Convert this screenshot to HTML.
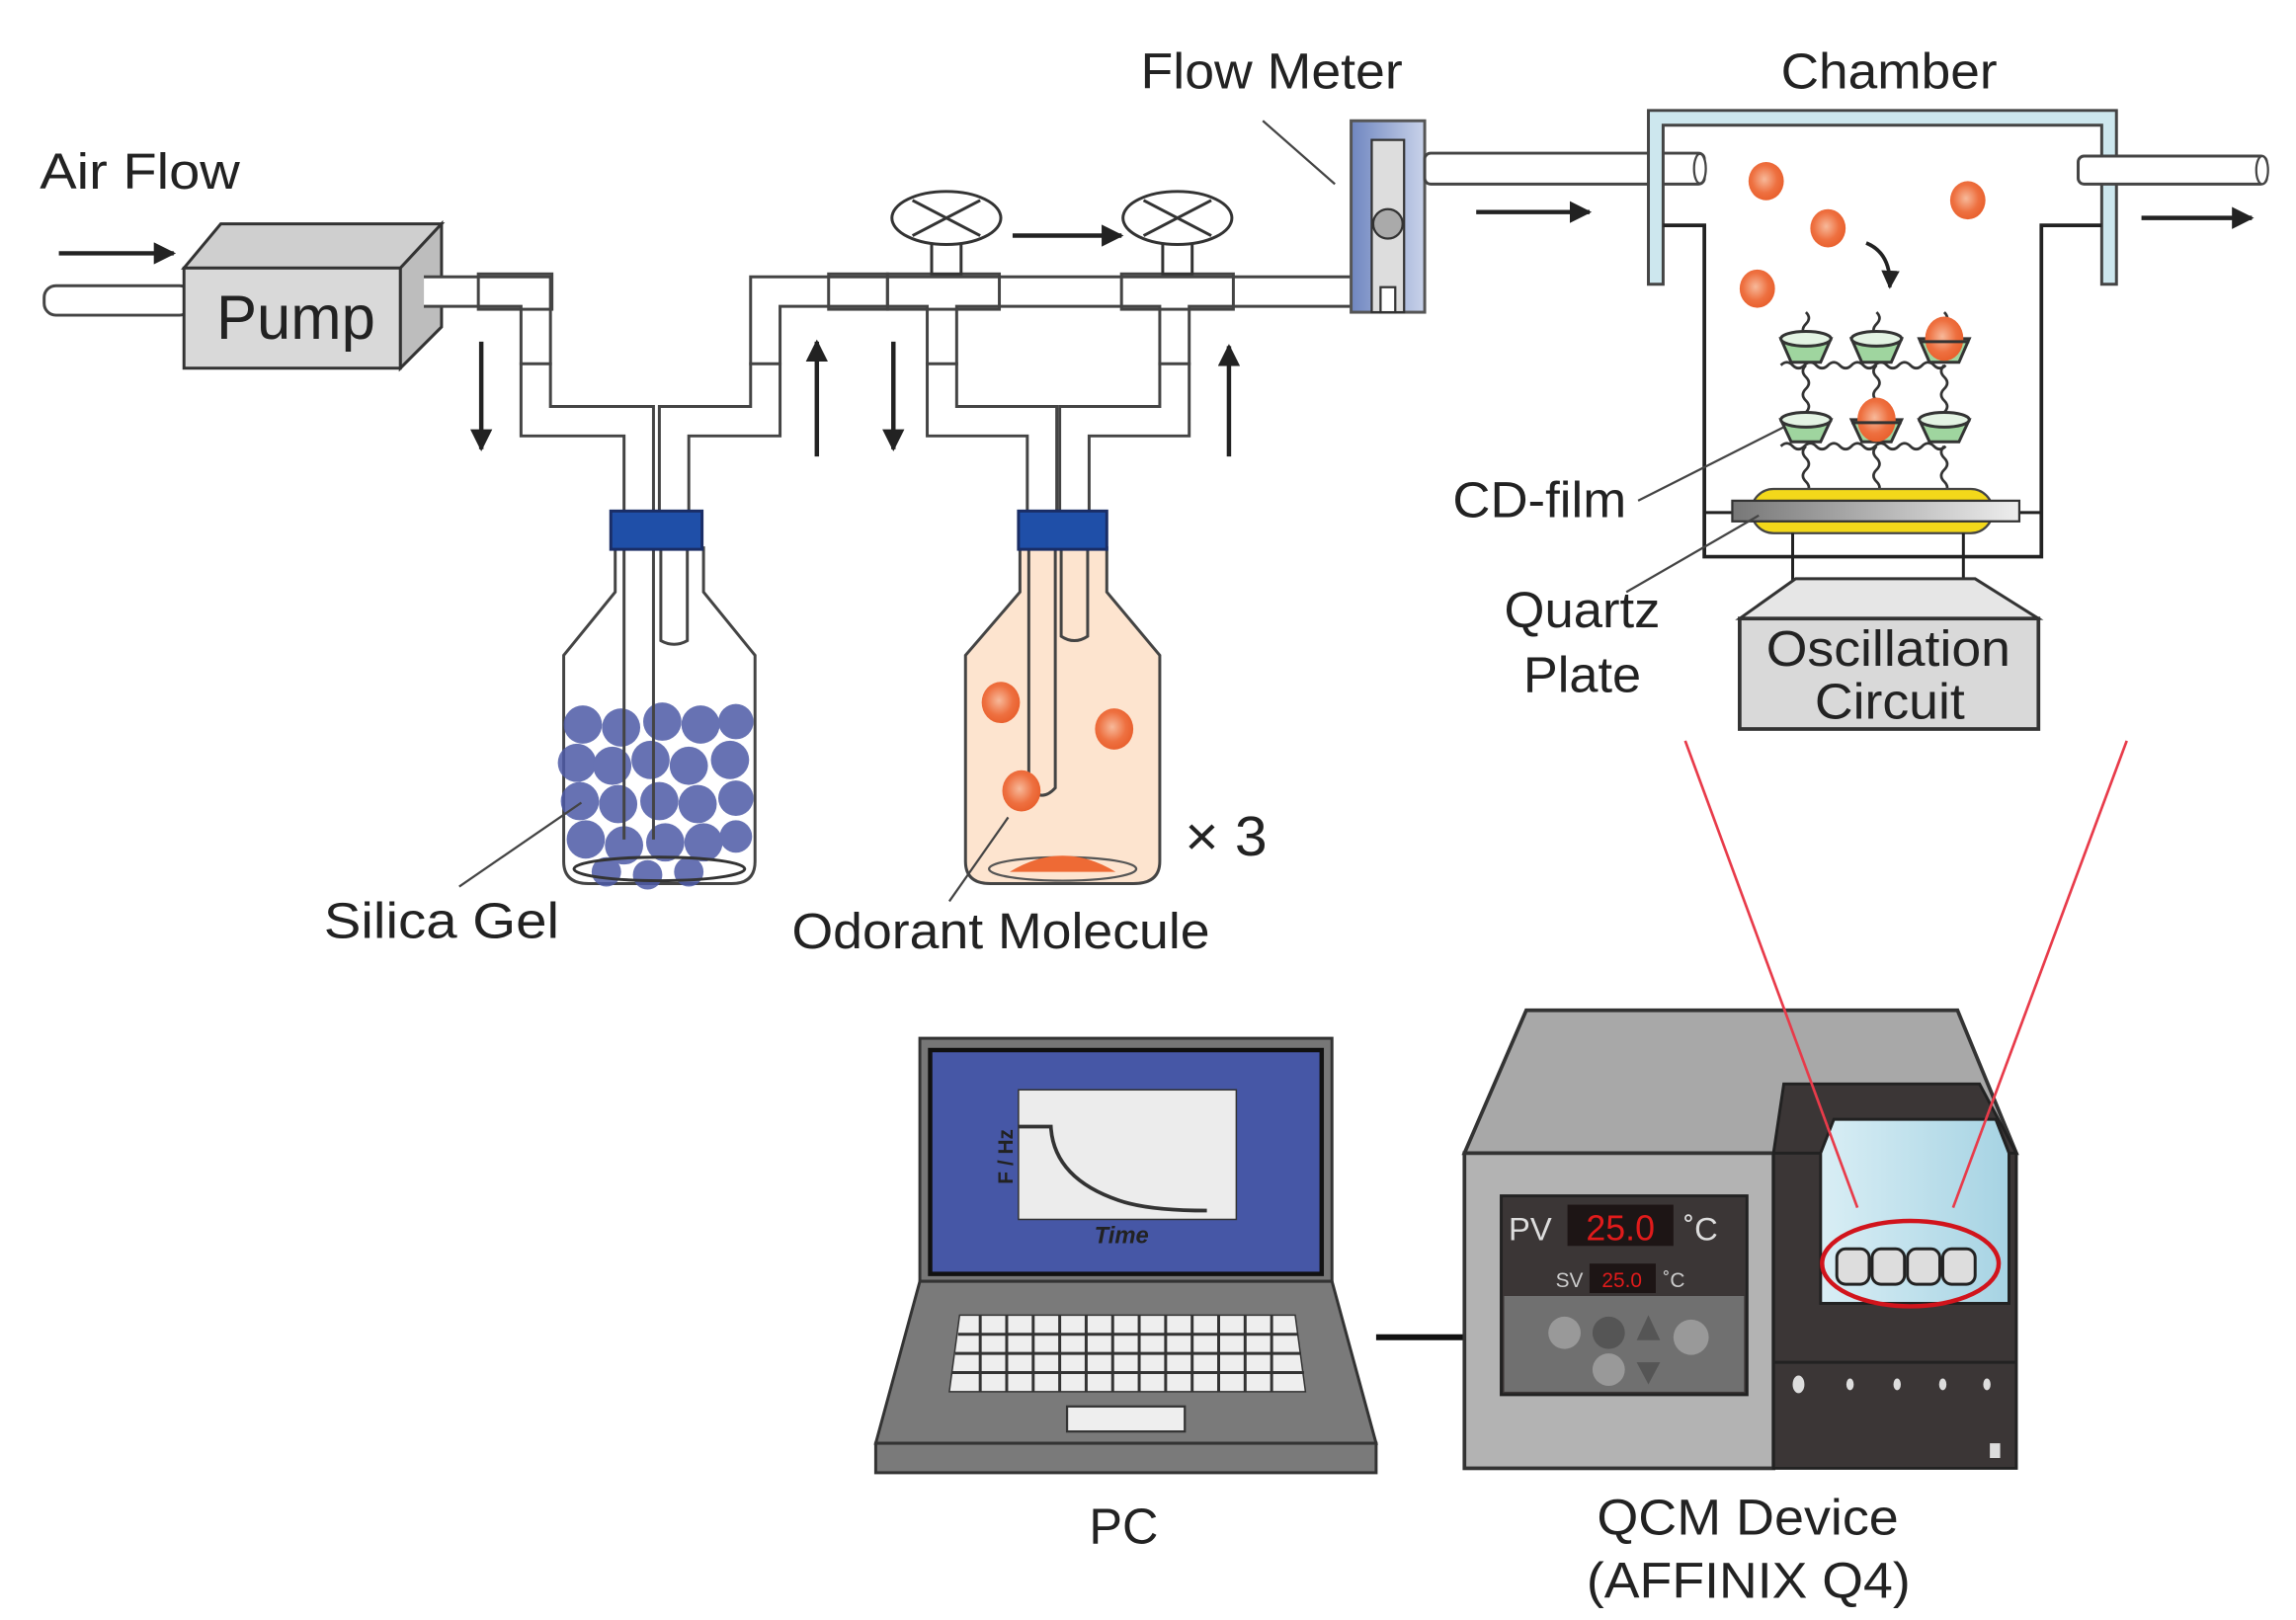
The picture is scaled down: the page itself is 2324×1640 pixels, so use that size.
<!DOCTYPE html>
<html><head><meta charset="utf-8"><style>
html,body{margin:0;padding:0;background:#fff}
svg{display:block}
text{font-family:"Liberation Sans",sans-serif;fill:#222}
</style></head><body>
<svg width="2324" height="1640" viewBox="0 0 1560 1100" preserveAspectRatio="none" xmlns="http://www.w3.org/2000/svg">
<defs>
<marker id="ah" viewBox="0 0 10 10" refX="9" refY="5" markerWidth="5" markerHeight="5" orient="auto"><path d="M0,0 L10,5 L0,10 z" fill="#222"/></marker>
<radialGradient id="og" cx="0.45" cy="0.45" r="0.6"><stop offset="0" stop-color="#f7b99a"/><stop offset="0.6" stop-color="#ee7040"/><stop offset="1" stop-color="#e85d2a"/></radialGradient>
<linearGradient id="fm" x1="0" x2="1"><stop offset="0" stop-color="#6f86c0"/><stop offset="1" stop-color="#c9d3ea"/></linearGradient>
<linearGradient id="qz" x1="0" x2="1"><stop offset="0" stop-color="#777"/><stop offset="1" stop-color="#eee"/></linearGradient>
<linearGradient id="win" x1="0" x2="1"><stop offset="0" stop-color="#d9eef5"/><stop offset="1" stop-color="#a6d3e3"/></linearGradient>
</defs>

<!-- Labels -->
<text x="27" y="128" font-size="34" textLength="136" lengthAdjust="spacingAndGlyphs">Air Flow</text>
<text x="775" y="60" font-size="34" textLength="178" lengthAdjust="spacingAndGlyphs">Flow Meter</text>
<text x="1210" y="60" font-size="34" textLength="147" lengthAdjust="spacingAndGlyphs">Chamber</text>

<!-- inlet arrow and tube -->
<line x1="40" y1="172" x2="118" y2="172" stroke="#222" stroke-width="3" marker-end="url(#ah)"/>
<rect x="30" y="194" width="100" height="20" rx="8" fill="#fff" stroke="#444" stroke-width="2"/>

<!-- Pump -->
<polygon points="125,182 150,152 300,152 272,182" fill="#cfcfcf" stroke="#333" stroke-width="2"/>
<polygon points="272,182 300,152 300,222 272,250" fill="#bdbdbd" stroke="#333" stroke-width="2"/>
<rect x="125" y="182" width="147" height="68" fill="#d9d9d9" stroke="#333" stroke-width="2"/>
<text x="147" y="230" font-size="42" textLength="108" lengthAdjust="spacingAndGlyphs">Pump</text>

<!-- tubes -->
<g fill="none" stroke-linejoin="miter">
<g stroke="#444" stroke-width="22">
<path d="M288,198 H364 V286 H434 V570"/>
<path d="M458,435 V286 H520 V198 H930"/>
<path d="M640,198 V286 H708 V540"/>
<path d="M730,435 V286 H798 V198"/>
</g>
<g stroke="#fff" stroke-width="18">
<path d="M288,198 H364 V286 H434 V570"/>
<path d="M458,435 V286 H520 V198 H930"/>
<path d="M640,198 V286 H708 V540"/>
<path d="M730,435 V286 H798 V198"/>
</g>
</g>
<g fill="none" stroke="#444" stroke-width="2">
<rect x="325" y="186" width="50" height="24"/>
<rect x="563" y="186" width="40" height="24"/>
<rect x="603" y="186" width="76" height="24"/>
<rect x="762" y="186" width="76" height="24"/>
<line x1="353" y1="247" x2="375" y2="247"/><line x1="509" y1="247" x2="531" y2="247"/>
<line x1="629" y1="247" x2="651" y2="247"/><line x1="787" y1="247" x2="809" y2="247"/>
</g>
<!-- valves -->
<g stroke="#333" stroke-width="2" fill="#fff">
<rect x="633" y="162" width="20" height="24"/>
<rect x="790" y="162" width="20" height="24"/>
<ellipse cx="643" cy="148" rx="37" ry="18"/>
<ellipse cx="800" cy="148" rx="37" ry="18"/>
<path d="M620,136 L666,160 M620,160 L666,136 M777,136 L823,160 M777,160 L823,136" fill="none"/>
</g>
<g stroke="#222" stroke-width="3" marker-end="url(#ah)">
<line x1="327" y1="232" x2="327" y2="305"/>
<line x1="555" y1="310" x2="555" y2="232"/>
<line x1="607" y1="232" x2="607" y2="305"/>
<line x1="835" y1="310" x2="835" y2="235"/>
<line x1="688" y1="160" x2="762" y2="160"/>
<line x1="1003" y1="144" x2="1080" y2="144"/>
<line x1="1455" y1="148" x2="1530" y2="148"/>
</g>

<!-- Bottle 1 -->
<path d="M418,372 V402 L383,445 V585 Q383,600 400,600 H497 Q513,600 513,585 V445 L478,402 V372 Z" fill="#fff" stroke="#444" stroke-width="2"/>
<g fill="#4d5aa6" opacity="0.85">
<circle cx="396" cy="492" r="13"/><circle cx="422" cy="494" r="13"/><circle cx="450" cy="490" r="13"/><circle cx="476" cy="492" r="13"/><circle cx="500" cy="490" r="12"/>
<circle cx="392" cy="518" r="13"/><circle cx="416" cy="520" r="13"/><circle cx="442" cy="516" r="13"/><circle cx="468" cy="520" r="13"/><circle cx="496" cy="516" r="13"/>
<circle cx="394" cy="544" r="13"/><circle cx="420" cy="546" r="13"/><circle cx="448" cy="544" r="13"/><circle cx="474" cy="546" r="13"/><circle cx="500" cy="542" r="12"/>
<circle cx="398" cy="570" r="13"/><circle cx="424" cy="574" r="13"/><circle cx="452" cy="572" r="13"/><circle cx="478" cy="572" r="13"/><circle cx="500" cy="568" r="11"/>
<circle cx="412" cy="592" r="10"/><circle cx="440" cy="594" r="10"/><circle cx="468" cy="592" r="10"/>
</g>
<ellipse cx="448" cy="590" rx="58" ry="8" fill="none" stroke="#333" stroke-width="2"/>
<g fill="none" stroke="#444" stroke-width="2"><path d="M424,372 V570 M444,372 V570 M449,372 V435 Q458,440 467,435 V372"/></g>
<rect x="415" y="347" width="62" height="26" fill="#1f4fa8" stroke="#1a2d66" stroke-width="2"/>

<!-- Bottle 2 -->
<path d="M693,372 V402 L656,445 V585 Q656,600 673,600 H770 Q788,600 788,585 V445 L752,402 V372 Z" fill="#fde4cf" stroke="#444" stroke-width="2"/>
<g fill="none" stroke="#444" stroke-width="2"><path d="M699,372 V535 Q708,545 717,535 V372 M721,372 V432 Q730,438 739,432 V372"/></g>
<ellipse cx="722" cy="590" rx="50" ry="8" fill="none" stroke="#555" stroke-width="1.5"/>
<path d="M686,592 Q722,570 758,592 Z" fill="#ee6a35"/>
<ellipse cx="680" cy="477" rx="13" ry="14" fill="url(#og)"/>
<ellipse cx="757" cy="495" rx="13" ry="14" fill="url(#og)"/>
<ellipse cx="694" cy="537" rx="13" ry="14" fill="url(#og)"/>
<rect x="692" y="347" width="60" height="26" fill="#1f4fa8" stroke="#1a2d66" stroke-width="2"/>

<text x="805" y="581" font-size="38" textLength="56" lengthAdjust="spacingAndGlyphs">× 3</text>
<line x1="312" y1="602" x2="395" y2="545" stroke="#444" stroke-width="1.5"/>
<text x="220" y="637" font-size="34" textLength="160" lengthAdjust="spacingAndGlyphs">Silica Gel</text>
<line x1="645" y1="612" x2="685" y2="555" stroke="#444" stroke-width="1.5"/>
<text x="538" y="644" font-size="34" textLength="284" lengthAdjust="spacingAndGlyphs">Odorant Molecule</text>

<!-- Flow meter -->
<line x1="858" y1="82" x2="907" y2="125" stroke="#444" stroke-width="1.5"/>
<rect x="918" y="82" width="50" height="130" fill="url(#fm)" stroke="#555" stroke-width="2"/>
<rect x="932" y="95" width="22" height="117" fill="#ddd" stroke="#333" stroke-width="1.5"/>
<circle cx="943" cy="152" r="10" fill="#aaa" stroke="#333" stroke-width="1.5"/>
<rect x="938" y="195" width="10" height="17" fill="#fff" stroke="#333" stroke-width="1.5"/>
<rect x="968" y="104" width="190" height="21" rx="4" fill="#fff" stroke="#444" stroke-width="2"/>
<ellipse cx="1155" cy="114.5" rx="4" ry="10" fill="#fff" stroke="#444" stroke-width="1.5"/>

<!-- Chamber -->
<path d="M1120,193 V75 H1438 V193 H1428 V85 H1130 V193 Z" fill="#cde7ee" stroke="#444" stroke-width="2"/>
<path d="M1130,153 H1158 V378 H1387 V153 H1428" fill="none" stroke="#222" stroke-width="2.5"/>
<line x1="1158" y1="348" x2="1387" y2="348" stroke="#222" stroke-width="2"/>
<rect x="1412" y="106" width="128" height="19" rx="4" fill="#fff" stroke="#444" stroke-width="2"/>
<ellipse cx="1537" cy="115.5" rx="4" ry="9.5" fill="#fff" stroke="#444" stroke-width="1.5"/>
<ellipse cx="1200" cy="123" rx="12" ry="13" fill="url(#og)"/>
<ellipse cx="1242" cy="155" rx="12" ry="13" fill="url(#og)"/>
<ellipse cx="1337" cy="136" rx="12" ry="13" fill="url(#og)"/>
<ellipse cx="1194" cy="196" rx="12" ry="13" fill="url(#og)"/>
<path d="M1268,165 Q1285,172 1284,195" fill="none" stroke="#222" stroke-width="2.5" marker-end="url(#ah)"/>

<!-- CD film -->
<g stroke="#333" stroke-width="1.8" fill="none">
<path d="M1210,248 q4,-4 8,0 t8,0 t8,0 t8,0 t8,0 t8,0 t8,0 t8,0 t8,0 t8,0 t8,0 t8,0 t8,0 t8,0"/>
<path d="M1210,303 q4,-4 8,0 t8,0 t8,0 t8,0 t8,0 t8,0 t8,0 t8,0 t8,0 t8,0 t8,0 t8,0 t8,0 t8,0"/>
<path d="M1227,248 q-4,4 0,8 t0,8 t0,8 t0,8 M1275,248 q-4,4 0,8 t0,8 t0,8 t0,8 M1321,248 q-4,4 0,8 t0,8 t0,8 t0,8"/>
<path d="M1227,303 q-4,4 0,8 t0,8 t0,8 t0,8 M1275,303 q-4,4 0,8 t0,8 t0,8 t0,8 M1321,303 q-4,4 0,8 t0,8 t0,8 t0,8"/>
<path d="M1227,228 q-4,-4 0,-8 t0,-8 M1275,228 q-4,-4 0,-8 t0,-8 M1321,228 q-4,-4 0,-8 t0,-8"/>
</g>
<g stroke="#333" stroke-width="2">
<path d="M1210,230 L1217,246 H1237 L1244,230 Z" fill="#9fd59f"/><ellipse cx="1227" cy="230" rx="17" ry="5" fill="#e3f3e3"/>
<path d="M1258,230 L1265,246 H1285 L1292,230 Z" fill="#9fd59f"/><ellipse cx="1275" cy="230" rx="17" ry="5" fill="#e3f3e3"/>
<path d="M1304,230 L1311,246 H1331 L1338,230 Z" fill="#9fd59f"/>
<path d="M1210,285 L1217,300 H1237 L1244,285 Z" fill="#9fd59f"/><ellipse cx="1227" cy="285" rx="17" ry="5" fill="#e3f3e3"/>
<path d="M1258,285 L1265,300 H1285 L1292,285 Z" fill="#9fd59f"/>
<path d="M1304,285 L1311,300 H1331 L1338,285 Z" fill="#9fd59f"/><ellipse cx="1321" cy="285" rx="17" ry="5" fill="#e3f3e3"/>
</g>
<ellipse cx="1321" cy="230" rx="13" ry="15" fill="url(#og)"/>
<ellipse cx="1275" cy="285" rx="13" ry="15" fill="url(#og)"/>
<line x1="1304" y1="232" x2="1338" y2="232" stroke="#333" stroke-width="2"/>
<line x1="1258" y1="287" x2="1292" y2="287" stroke="#333" stroke-width="2"/>

<rect x="1190" y="332" width="164" height="30" rx="15" fill="#f3d81a" stroke="#444" stroke-width="1.5"/>
<rect x="1177" y="340" width="195" height="14" fill="url(#qz)" stroke="#333" stroke-width="1.5"/>
<line x1="1218" y1="362" x2="1218" y2="396" stroke="#222" stroke-width="2"/>
<line x1="1334" y1="362" x2="1334" y2="396" stroke="#222" stroke-width="2"/>
<polygon points="1182,420 1220,393 1342,393 1385,420" fill="#e6e6e6" stroke="#333" stroke-width="2"/>
<rect x="1182" y="420" width="203" height="75" fill="#d9d9d9" stroke="#333" stroke-width="2.5"/>
<text x="1200" y="452" font-size="34" textLength="166" lengthAdjust="spacingAndGlyphs">Oscillation</text>
<text x="1233" y="488" font-size="34" textLength="102" lengthAdjust="spacingAndGlyphs">Circuit</text>

<line x1="1113" y1="340" x2="1212" y2="290" stroke="#444" stroke-width="1.5"/>
<text x="987" y="351" font-size="34" textLength="118" lengthAdjust="spacingAndGlyphs">CD-film</text>
<line x1="1105" y1="402" x2="1195" y2="350" stroke="#444" stroke-width="1.5"/>
<text x="1022" y="426" font-size="34" textLength="106" lengthAdjust="spacingAndGlyphs">Quartz</text>
<text x="1035" y="470" font-size="34" textLength="80" lengthAdjust="spacingAndGlyphs">Plate</text>

<!-- PC -->
<rect x="625" y="705" width="280" height="165" fill="#777" stroke="#333" stroke-width="2"/>
<rect x="632" y="713" width="266" height="152" fill="#4657a6" stroke="#111" stroke-width="3"/>
<rect x="692" y="740" width="148" height="88" fill="#ececec" stroke="#333" stroke-width="1"/>
<path d="M692,765 H714 Q716,800 760,815 Q780,822 820,822" fill="none" stroke="#333" stroke-width="2.5"/>
<text x="0" y="0" font-size="14" font-weight="bold" transform="translate(688,804) rotate(-90)">F / Hz</text>
<text x="762" y="844" font-size="16" font-weight="bold" font-style="italic" text-anchor="middle">Time</text>
<polygon points="625,870 905,870 935,980 595,980" fill="#7a7a7a" stroke="#333" stroke-width="2"/>
<rect x="595" y="980" width="340" height="20" fill="#7a7a7a" stroke="#333" stroke-width="2"/>
<path d="M652,893 H880 L887,945 H645 Z" fill="#eee" stroke="#333" stroke-width="1"/>
<g stroke="#333" stroke-width="2">
<path d="M651,906 H882 M649,919 H884 M647,932 H886"/>
<path d="M666,893 V945 M684,893 V945 M702,893 V945 M720,893 V945 M738,893 V945 M756,893 V945 M774,893 V945 M792,893 V945 M810,893 V945 M828,893 V945 M846,893 V945 M864,893 V945"/>
</g>
<rect x="725" y="955" width="80" height="17" fill="#eee" stroke="#333" stroke-width="1.5"/>
<line x1="935" y1="908" x2="997" y2="908" stroke="#111" stroke-width="4"/>
<text x="740" y="1048" font-size="34" textLength="47" lengthAdjust="spacingAndGlyphs">PC</text>

<!-- QCM device -->
<polygon points="1037,686 1330,686 1370,783 995,783" fill="#a8a8a8" stroke="#333" stroke-width="2.5"/>
<rect x="995" y="783" width="210" height="214" fill="#b3b3b3" stroke="#333" stroke-width="2.5"/>
<path d="M1205,997 V783 L1212,736 H1345 L1370,783 V997 Z" fill="#3b3636" stroke="#222" stroke-width="2"/>
<line x1="1205" y1="783" x2="1370" y2="783" stroke="#222" stroke-width="2"/>
<path d="M1237,885 V783 L1246,760 H1356 L1365,783 V885 Z" fill="url(#win)" stroke="#222" stroke-width="2"/>
<line x1="1205" y1="925" x2="1370" y2="925" stroke="#222" stroke-width="2"/>
<g fill="#ddd" stroke="#222" stroke-width="2">
<rect x="1248" y="848" width="22" height="24" rx="6"/><rect x="1272" y="848" width="22" height="24" rx="6"/>
<rect x="1296" y="848" width="22" height="24" rx="6"/><rect x="1320" y="848" width="22" height="24" rx="6"/>
</g>
<g fill="#ddd"><ellipse cx="1222" cy="940" rx="4" ry="6"/><ellipse cx="1257" cy="940" rx="2.5" ry="4"/><ellipse cx="1289" cy="940" rx="2.5" ry="4"/><ellipse cx="1320" cy="940" rx="2.5" ry="4"/><ellipse cx="1350" cy="940" rx="2.5" ry="4"/><rect x="1352" y="980" width="7" height="10"/></g>
<rect x="1020" y="812" width="167" height="135" fill="#3b3636" stroke="#222" stroke-width="2"/>
<rect x="1022" y="880" width="163" height="65" fill="#707070"/>
<rect x="1065" y="818" width="72" height="28" fill="#1d1515"/>
<text x="1101" y="842" font-size="24" text-anchor="middle" style="fill:#e01b1b">25.0</text>
<text x="1025" y="842" font-size="22" style="fill:#ddd">PV</text>
<text x="1144" y="842" font-size="22" style="fill:#ddd">˚C</text>
<rect x="1080" y="858" width="45" height="20" fill="#1d1515"/>
<text x="1102" y="874" font-size="14" text-anchor="middle" style="fill:#e01b1b">25.0</text>
<text x="1057" y="874" font-size="14" style="fill:#ccc">SV</text>
<text x="1130" y="874" font-size="14" style="fill:#ccc">˚C</text>
<g fill="#999"><circle cx="1063" cy="905" r="11"/><circle cx="1093" cy="905" r="11" fill="#555"/><circle cx="1093" cy="930" r="11"/><circle cx="1149" cy="908" r="12"/></g>
<polygon points="1120,893 1128,910 1112,910" fill="#555"/><polygon points="1112,925 1128,925 1120,940" fill="#555"/>

<line x1="1145" y1="503" x2="1262" y2="820" stroke="#e83b4a" stroke-width="1.8"/>
<line x1="1445" y1="503" x2="1327" y2="820" stroke="#e83b4a" stroke-width="1.8"/>
<ellipse cx="1298" cy="858" rx="60" ry="29" fill="none" stroke="#d1141c" stroke-width="3"/>

<text x="1085" y="1042" font-size="34" textLength="205" lengthAdjust="spacingAndGlyphs">QCM Device</text>
<text x="1078" y="1085" font-size="34" textLength="220" lengthAdjust="spacingAndGlyphs">(AFFINIX Q4)</text>
</svg>
</body></html>
